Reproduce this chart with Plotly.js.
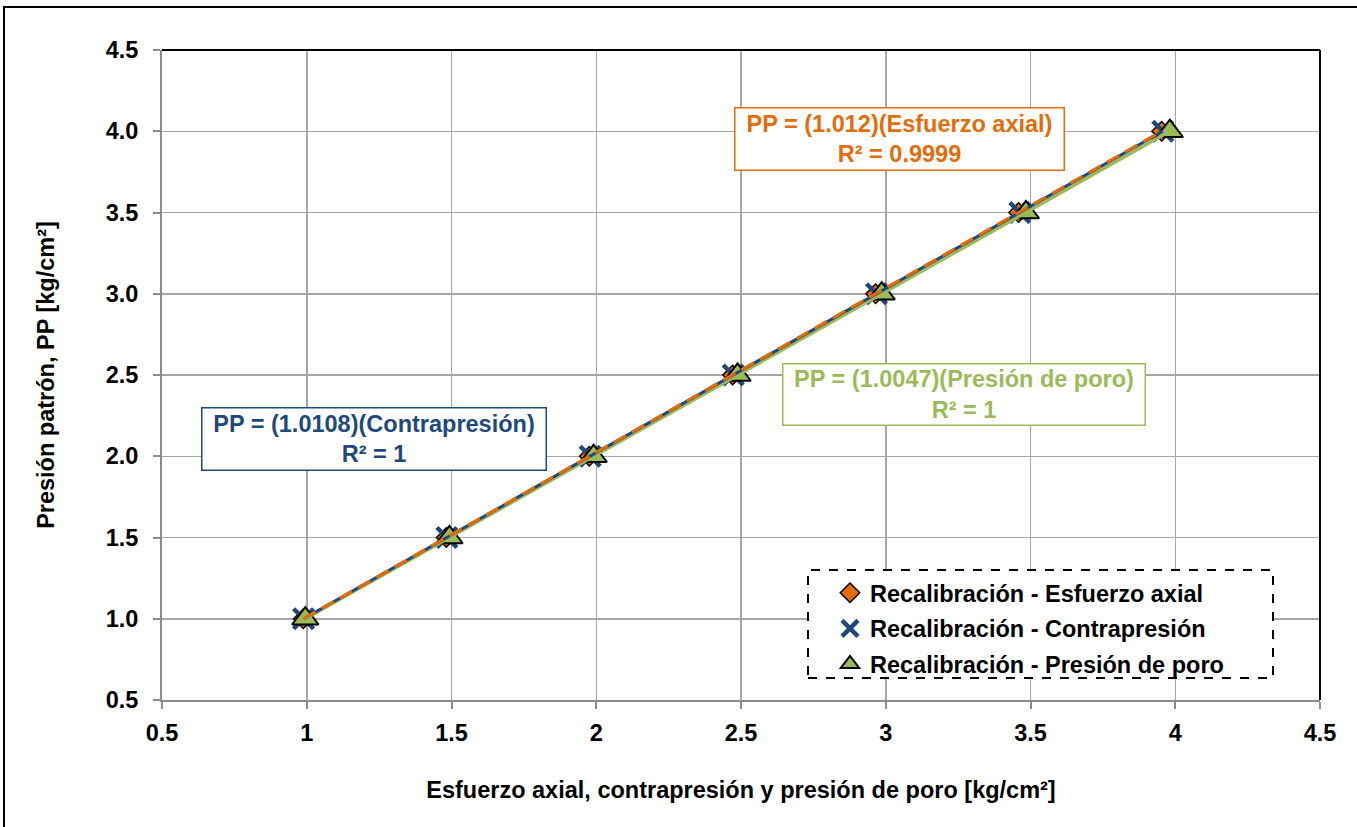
<!DOCTYPE html>
<html>
<head>
<meta charset="utf-8">
<script src="https://cdn.plot.ly/plotly-3.0.1.min.js"></script>
<style>
html,body{margin:0;padding:0;background:#fff;}
#chart{width:1357px;height:827px;}
</style>
</head>
<body>
<div id="chart"></div>
<script>
// Data
const patron = [1.0, 1.5, 2.0, 2.5, 3.0, 3.5, 4.0];
const esfuerzoAxial = [0.988, 1.482, 1.976, 2.471, 2.965, 3.459, 3.953];
const contrapresion = [0.989, 1.484, 1.979, 2.473, 2.968, 3.463, 3.957];
const presionPoro = [0.995, 1.493, 1.991, 2.488, 2.986, 3.484, 3.981];
const slopeAxial = 1.012, slopeContra = 1.0108, slopePoro = 1.0047;
const xTicks = [0.5, 1, 1.5, 2, 2.5, 3, 3.5, 4, 4.5];
const yTicks = [0.5, 1.0, 1.5, 2.0, 2.5, 3.0, 3.5, 4.0, 4.5];

const ORANGE = '#E46C0A', BLUE = '#1F497D', GREEN = '#9BBB59';
const FONT = 'Arial, "Liberation Sans", sans-serif';
const FS = 23.5;

function trend(xs, m) {
  const lo = Math.min(...xs), hi = Math.max(...xs);
  return {x: [lo, hi], y: [lo * m, hi * m]};
}
const tA = trend(esfuerzoAxial, slopeAxial);
const tC = trend(contrapresion, slopeContra);
const tP = trend(presionPoro, slopePoro);

const traces = [
  {x: esfuerzoAxial, y: patron, mode: 'markers', type: 'scatter',
   name: 'Recalibración - Esfuerzo axial', legendgroup: 'a',
   marker: {symbol: 'diamond', size: 15, color: ORANGE, line: {color: '#000', width: 1.5}}},
  {x: contrapresion, y: patron, mode: 'markers', type: 'scatter',
   name: 'Recalibración - Contrapresión', legendgroup: 'b',
   marker: {symbol: 'x-thin', size: 20, color: BLUE, line: {color: BLUE, width: 4.5}}},
  {x: presionPoro, y: patron, mode: 'markers', type: 'scatter',
   name: 'Recalibración - Presión de poro', legendgroup: 'c',
   marker: {symbol: 'triangle-up', size: 23, color: GREEN, line: {color: '#000', width: 2}}},
  {x: tP.x, y: tP.y, mode: 'lines', type: 'scatter', showlegend: false, hoverinfo: 'skip',
   line: {color: GREEN, width: 3.5}},
  {x: tC.x, y: tC.y, mode: 'lines', type: 'scatter', showlegend: false, hoverinfo: 'skip',
   line: {color: BLUE, width: 3}},
  {x: tA.x, y: tA.y, mode: 'lines', type: 'scatter', showlegend: false, hoverinfo: 'skip',
   line: {color: ORANGE, width: 3, dash: '14px,7px'}}
];

const W = 1158, H = 650, L = 162, T = 50;
const px = v => (v - L) / W;
const py = v => 1 - (v - T) / H;

const bold = (c, s) => ({family: FONT, size: s || FS, color: c, weight: 'bold'});

const layout = {
  width: 1357, height: 827,
  margin: {l: 162, r: 37, t: 50, b: 127, pad: 0},
  paper_bgcolor: '#fff', plot_bgcolor: '#fff',
  font: bold('#000'),
  showlegend: true,
  legend: {
    x: px(830), y: py(571), xanchor: 'left', yanchor: 'top',
    bgcolor: 'rgba(0,0,0,0)', borderwidth: 0,
    traceorder: 'grouped', tracegroupgap: 2,
    font: bold('#000')
  },
  xaxis: {
    range: [0.5, 4.5], tickvals: xTicks, ticktext: xTicks.map(v => String(v)),
    showgrid: true, gridcolor: '#A6A6A6', gridwidth: 1.5,
    showline: true, linecolor: '#8C8C8C', linewidth: 2,
    ticks: 'outside', ticklen: 7, tickcolor: '#8C8C8C', tickwidth: 2,
    ticklabelstandoff: 4,
    zeroline: false,
    tickfont: bold('#000'),
    title: {text: 'Esfuerzo axial, contrapresión y presión de poro [kg/cm²]', standoff: 36,
            font: bold('#000')}
  },
  yaxis: {
    range: [0.5, 4.5], tickvals: yTicks, ticktext: yTicks.map(v => v.toFixed(1)),
    showgrid: true, gridcolor: '#A6A6A6', gridwidth: 1.5,
    showline: true, linecolor: '#8C8C8C', linewidth: 2,
    ticks: 'outside', ticklen: 7, tickcolor: '#8C8C8C', tickwidth: 2,
    ticklabelstandoff: 10,
    zeroline: false,
    tickfont: bold('#000'),
    title: {text: 'Presión patrón, PP [kg/cm²]', standoff: 44, font: bold('#000')}
  },
  shapes: [
    {type: 'rect', xref: 'paper', yref: 'paper', x0: px(4), x1: px(1362), y0: py(832), y1: py(7),
     line: {color: '#000', width: 2}, fillcolor: 'rgba(0,0,0,0)', layer: 'below'},
    {type: 'line', xref: 'paper', yref: 'paper', x0: 0, x1: 1, y0: 1, y1: 1, line: {color: '#000', width: 2}},
    {type: 'line', xref: 'paper', yref: 'paper', x0: 1, x1: 1, y0: 0, y1: 1, line: {color: '#000', width: 2}},
    {type: 'rect', xref: 'paper', yref: 'paper', x0: px(808), x1: px(1273), y0: py(678), y1: py(570),
     line: {color: '#000', width: 2, dash: 'dash'}, fillcolor: '#fff', layer: 'above'}
  ],
  annotations: [
    {x: 3.049, y: 3.955, xref: 'x', yref: 'y', showarrow: false, xanchor: 'center', yanchor: 'middle',
     text: 'PP = (1.012)(Esfuerzo axial)<br>R² = 0.9999', font: bold(ORANGE),
     bgcolor: '#fff', bordercolor: ORANGE, borderwidth: 1.5, borderpad: 1, width: 326, height: 59, align: 'center'},
    {x: 1.2306, y: 2.109, xref: 'x', yref: 'y', showarrow: false, xanchor: 'center', yanchor: 'middle',
     text: 'PP = (1.0108)(Contrapresión)<br>R² = 1', font: bold(BLUE),
     bgcolor: '#fff', bordercolor: BLUE, borderwidth: 1.5, borderpad: 1, width: 341, height: 59, align: 'center'},
    {x: 3.2686, y: 2.383, xref: 'x', yref: 'y', showarrow: false, xanchor: 'center', yanchor: 'middle',
     text: 'PP = (1.0047)(Presión de poro)<br>R² = 1', font: bold(GREEN),
     bgcolor: '#fff', bordercolor: GREEN, borderwidth: 1.5, borderpad: 1, width: 359, height: 58, align: 'center'}
  ]
};

Plotly.newPlot('chart', traces, layout, {displayModeBar: false, staticPlot: true});
</script>
</body>
</html>
